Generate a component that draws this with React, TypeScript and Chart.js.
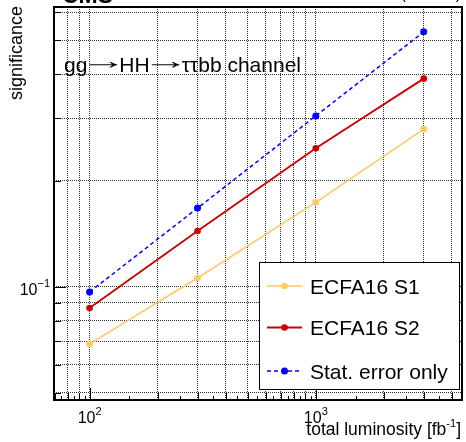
import React, { useEffect, useRef } from "react";
import { Chart, registerables } from "chart.js";

Chart.register(...registerables);

// ---- data ----
const luminosity = [100, 300, 1000, 3000];
const s1Values = [0.0688, 0.1058, 0.1734, 0.2797];
const s2Values = [0.087, 0.1438, 0.247, 0.389];
const statValues = [0.0966, 0.167, 0.305, 0.528];
const seriesLabels = ["ECFA16 S1", "ECFA16 S2", "Stat. error only"];
const seriesColors = ["#FFC966", "#CC0000", "#0000FF"];

const xGridValues = [70, 80, 90, 100, 200, 300, 400, 500, 600, 700, 800, 900, 1000, 2000, 3000, 4000];
const yGridValues = [0.05, 0.06, 0.07, 0.08, 0.09, 0.1, 0.2, 0.3, 0.4, 0.5, 0.6];
const xHalfTicks = [75, 85, 95, 150, 250, 350, 450, 550, 650, 750, 850, 950, 1500, 2500, 3500];
const xLabelTicks = [{ v: 100, base: "10", exp: "2" }, { v: 1000, base: "10", exp: "3" }];
const yLabelTicks = [{ v: 0.1, base: "10", exp: "\u22121" }];

const channelParts = ["gg", "\u2192", "HH", "\u2192", "\u03c4\u03c4bb channel"];
const xTitleMain = "total luminosity [fb";
const xTitleExp = "-1";
const yTitle = "significance";

const FONT = '"Liberation Sans", Arial, Helvetica, sans-serif';

function drawPow(ctx: CanvasRenderingContext2D, base: string, exp: string, x: number, y: number,
  bs: number, es: number, raise: number, align: string) {
  ctx.font = `${bs}px ${FONT}`;
  const wb = ctx.measureText(base).width;
  ctx.font = `${es}px ${FONT}`;
  const we = ctx.measureText(exp).width;
  const total = wb + we;
  const x0 = align === "center" ? x - total / 2 : align === "right" ? x - total : x;
  ctx.textAlign = "left";
  ctx.textBaseline = "alphabetic";
  ctx.font = `${bs}px ${FONT}`;
  ctx.fillText(base, x0, y);
  ctx.font = `${es}px ${FONT}`;
  ctx.fillText(exp, x0 + wb, y - raise);
}

function drawChannel(ctx: CanvasRenderingContext2D, x0: number, y: number, totalW: number) {
  const fs = 21;
  ctx.textAlign = "left";
  ctx.textBaseline = "alphabetic";
  ctx.font = `${fs}px ${FONT}`;
  let textW = 0;
  channelParts.forEach((p) => { if (p !== "\u2192") textW += ctx.measureText(p).width; });
  const arrowSlot = (totalW - textW) / 2;
  let x = x0;
  channelParts.forEach((p) => {
    ctx.font = `${fs}px ${FONT}`;
    if (p === "\u2192") {
      const m = ctx.measureText(p);
      const inkL = -m.actualBoundingBoxLeft;
      const inkW = m.actualBoundingBoxRight + m.actualBoundingBoxLeft;
      const inkMid = (m.actualBoundingBoxAscent - m.actualBoundingBoxDescent) / 2;
      const target = arrowSlot - 3;
      const sx = target / (inkW > 0 ? inkW : m.width);
      ctx.save();
      ctx.translate(x + 1.5, y - 6.5 + inkMid);
      ctx.scale(sx, 1.15);
      ctx.fillText(p, -inkL, 0);
      ctx.restore();
      x += arrowSlot;
    } else {
      ctx.fillText(p, x, y);
      x += ctx.measureText(p).width;
    }
  });
}

const rootStyle = {
  id: "rootStyle",
  afterDatasetsDraw(chart: any) {
    const { ctx, chartArea: a, scales } = chart;
    const x = scales.x, y = scales.y;
    ctx.save();
    ctx.strokeStyle = "#000";
    ctx.fillStyle = "#000";
    ctx.lineWidth = 1;
    ctx.setLineDash([]);
    const seg = (x1: number, y1: number, x2: number, y2: number) => {
      ctx.beginPath(); ctx.moveTo(x1, y1); ctx.lineTo(x2, y2); ctx.stroke();
    };
    // x ticks (inside, bottom)
    xGridValues.forEach((v) => {
      const px = Math.round(x.getPixelForValue(v)) + 0.5;
      const len = v === 100 || v === 1000 ? 12 : 7;
      seg(px, a.bottom, px, a.bottom - len);
    });
    xHalfTicks.forEach((v) => {
      const px = Math.round(x.getPixelForValue(v)) + 0.5;
      seg(px, a.bottom, px, a.bottom - 4);
    });
    // y ticks (inside, left)
    yGridValues.forEach((v) => {
      const py = Math.round(y.getPixelForValue(v)) + 0.5;
      const len = v === 0.1 ? 12 : 7;
      seg(a.left, py, a.left + len, py);
    });
    // frame
    ctx.lineWidth = 2;
    ctx.strokeRect(a.left, a.top, a.right - a.left, a.bottom - a.top);

    // tick labels
    xLabelTicks.forEach((t) => {
      drawPow(ctx, t.base, t.exp, x.getPixelForValue(t.v), 423, 16, 11, 8, "center");
    });
    yLabelTicks.forEach((t) => {
      drawPow(ctx, t.base, t.exp, a.left - 4, y.getPixelForValue(t.v) + 8, 16, 11, 8, "right");
    });

    // axis titles
    const tf = 17.5;
    ctx.font = `${tf}px ${FONT}`;
    const wMain = ctx.measureText(xTitleMain).width;
    ctx.font = `11px ${FONT}`;
    const wExp = ctx.measureText(xTitleExp).width;
    ctx.font = `${tf}px ${FONT}`;
    const wEnd = ctx.measureText("]").width;
    const xEnd = 461;
    const xs = xEnd - wMain - wExp - wEnd;
    ctx.textAlign = "left";
    ctx.textBaseline = "alphabetic";
    ctx.fillText(xTitleMain, xs, 435);
    ctx.font = `11px ${FONT}`;
    ctx.fillText(xTitleExp, xs + wMain, 427);
    ctx.font = `${tf}px ${FONT}`;
    ctx.fillText("]", xs + wMain + wExp, 435);

    ctx.save();
    ctx.translate(21.5, 6);
    ctx.rotate(-Math.PI / 2);
    ctx.textAlign = "right";
    ctx.font = `18px ${FONT}`;
    ctx.fillText(yTitle, 0, 0);
    ctx.restore();

    // channel text
    drawChannel(ctx, 64, 72, 237);

    // header (mostly cut off at the top edge)
    ctx.fillStyle = "#000";
    ctx.font = `bold 23px ${FONT}`;
    ctx.textAlign = "left";
    ctx.fillText("CMS", 62, 3);
    ctx.font = `16px ${FONT}`;
    ctx.textAlign = "right";
    ctx.fillText("(14 TeV)", 461, -1);

    // legend
    const lx = 259.5, ly = 262.5, lw = 200, lh = 127;
    ctx.fillStyle = "#fff";
    ctx.fillRect(lx, ly, lw, lh);
    ctx.lineWidth = 1;
    ctx.strokeStyle = "#000";
    ctx.strokeRect(lx, ly, lw, lh);
    const rows = [286, 327.5, 371];
    const datasets = chart.data.datasets;
    datasets.forEach((ds: any, i: number) => {
      const cy = rows[i];
      ctx.strokeStyle = ds.borderColor;
      ctx.lineWidth = ds.borderWidth;
      ctx.setLineDash(ds.borderDash || []);
      seg(267, cy, 302, cy);
      ctx.setLineDash([]);
      ctx.fillStyle = ds.backgroundColor;
      ctx.beginPath();
      ctx.arc(284.5, cy, ds.pointRadius, 0, Math.PI * 2);
      ctx.fill();
      ctx.fillStyle = "#000";
      ctx.font = `21px ${FONT}`;
      ctx.textAlign = "left";
      ctx.fillText(ds.label, 310, cy + 7.5);
    });
    ctx.restore();
  },
};

export default function App() {
  const ref = useRef<HTMLCanvasElement>(null);
  useEffect(() => {
    if (!ref.current) return;
    const mk = (vals: number[]) => luminosity.map((v, i) => ({ x: v, y: vals[i] }));
    const chart = new Chart(ref.current, {
      type: "line",
      data: {
        datasets: [
          { label: seriesLabels[0], data: mk(s1Values), borderColor: seriesColors[0], backgroundColor: seriesColors[0], borderWidth: 1.6, pointRadius: 3.3, pointBorderWidth: 0 },
          { label: seriesLabels[1], data: mk(s2Values), borderColor: seriesColors[1], backgroundColor: seriesColors[1], borderWidth: 1.8, pointRadius: 3.3, pointBorderWidth: 0 },
          { label: seriesLabels[2], data: mk(statValues), borderColor: seriesColors[2], backgroundColor: seriesColors[2], borderWidth: 1.5, borderDash: [4, 3], pointRadius: 3.5, pointBorderWidth: 0 },
        ] as any,
      },
      options: {
        animation: false,
        responsive: false,
        devicePixelRatio: 1,
        layout: { padding: { left: 54, top: 7, right: 3, bottom: 42 } },
        plugins: { legend: { display: false }, tooltip: { enabled: false } },
        elements: { line: { tension: 0 } },
        scales: {
          x: {
            type: "logarithmic",
            min: 69.6,
            max: 4430,
            afterBuildTicks: (s: any) => { s.ticks = xGridValues.map((v) => ({ value: v })); },
            ticks: { display: false },
            grid: { color: "#333", lineWidth: 1, drawTicks: false },
            border: { display: false, dash: [1, 1] },
          },
          y: {
            type: "logarithmic",
            min: 0.0477,
            max: 0.621,
            afterBuildTicks: (s: any) => { s.ticks = yGridValues.map((v) => ({ value: v })); },
            ticks: { display: false },
            grid: { color: "#333", lineWidth: 1, drawTicks: false },
            border: { display: false, dash: [1, 1] },
          },
        },
      },
      plugins: [rootStyle],
    });
    return () => chart.destroy();
  }, []);
  return (
    <div style={{ position: "fixed", left: 0, top: 0, width: 466, height: 442, background: "#fff" }}>
      <canvas ref={ref} width={466} height={442} style={{ display: "block", width: 466, height: 442 }} />
    </div>
  );
}
